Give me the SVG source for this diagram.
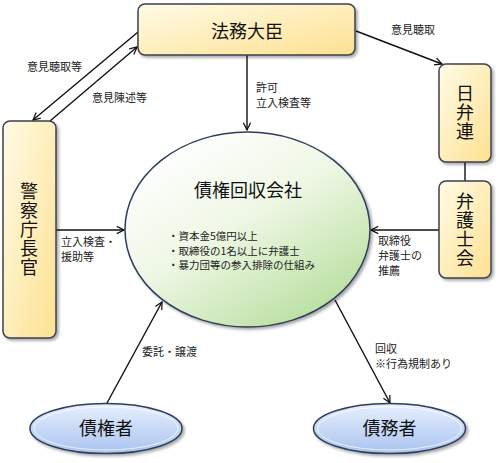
<svg xmlns="http://www.w3.org/2000/svg" width="500" height="463" viewBox="0 0 500 463">
<style>
.lbl{font-family:"Noto Sans CJK JP","Noto Sans",sans-serif;font-size:11px;fill:#222}
.bul{font-family:"Noto Sans CJK JP","Noto Sans",sans-serif;font-size:10.5px;fill:#222}
.big{font-family:"Noto Sans CJK JP","Noto Sans",sans-serif;font-size:18px;fill:#111}
.vt{font-family:"Noto Sans CJK JP","Noto Sans",sans-serif;font-size:18px;fill:#111;writing-mode:vertical-rl;text-orientation:upright;letter-spacing:1px}
.box{fill:url(#yel);stroke:#3c4250;stroke-width:1.5}
.oval{fill:url(#blu);stroke:#2f3e5c;stroke-width:1.5}
.con{stroke:#111;stroke-width:1.4;fill:none}
</style>
<defs>
<linearGradient id="yel" x1="0" y1="0" x2="1" y2="1">
<stop offset="0" stop-color="#fffbe6"/><stop offset="1" stop-color="#fde191"/>
</linearGradient>
<linearGradient id="grn" x1="0.15" y1="0.1" x2="0.8" y2="0.95">
<stop offset="0" stop-color="#ffffff"/><stop offset="0.45" stop-color="#eef7e4"/><stop offset="1" stop-color="#b9dfa0"/>
</linearGradient>
<linearGradient id="blu" x1="0" y1="0" x2="0" y2="1">
<stop offset="0" stop-color="#e8f0ff"/><stop offset="1" stop-color="#a9c3ee"/>
</linearGradient>
<filter id="sh" x="-10%" y="-10%" width="130%" height="130%">
<feDropShadow dx="2" dy="2" stdDeviation="1.5" flood-color="#000" flood-opacity="0.35"/>
</filter>
<marker id="ar" viewBox="0 0 10 10" refX="9" refY="5" markerWidth="9" markerHeight="9" markerUnits="userSpaceOnUse" orient="auto">
<path d="M1,1 L9,5 L1,9" fill="none" stroke="#111" stroke-width="1.4"/>
</marker>
</defs>

<g id="connectors">
<line class="con" x1="138" y1="32" x2="33" y2="120" marker-end="url(#ar)"/>
<line class="con" x1="50" y1="121" x2="137" y2="47" marker-end="url(#ar)"/>
<line class="con" x1="247" y1="55" x2="247" y2="130" marker-end="url(#ar)" stroke-width="1.8"/>
<line class="con" x1="356" y1="31" x2="442" y2="64" marker-end="url(#ar)"/>
<line class="con" x1="465" y1="162" x2="465" y2="181"/>
<line class="con" x1="56" y1="230" x2="124" y2="230" marker-end="url(#ar)"/>
<line class="con" x1="439" y1="230" x2="371" y2="230" marker-end="url(#ar)"/>
<line class="con" x1="107" y1="403" x2="162" y2="302" marker-end="url(#ar)"/>
<line class="con" x1="335" y1="300" x2="390" y2="403" marker-end="url(#ar)"/>
<text class="lbl" x="27" y="71">意見聴取等</text>
<text class="lbl" x="92" y="102">意見陳述等</text>
<text class="lbl" x="256" y="92">許可</text>
<text class="lbl" x="256" y="107">立入検査等</text>
<text class="lbl" x="391" y="34">意見聴取</text>
<text class="lbl" x="61" y="246">立入検査・</text>
<text class="lbl" x="61" y="261">援助等</text>
<text class="lbl" x="378" y="244.5">取締役</text>
<text class="lbl" x="378" y="259.5">弁護士の</text>
<text class="lbl" x="378" y="274.5">推薦</text>
<text class="lbl" x="142" y="356">委託・譲渡</text>
<text class="lbl" x="375" y="352.5">回収</text>
<text class="lbl" x="375" y="367.5">※行為規制あり</text>
</g>

<g id="homu">
<rect class="box" x="138" y="4" width="217" height="51" rx="7" filter="url(#sh)"/>
<text class="big" x="247" y="38" text-anchor="middle">法務大臣</text>
</g>

<g id="nichibenren">
<rect class="box" x="439" y="64" width="52" height="98" rx="7" filter="url(#sh)"/>
<text class="vt" x="465" y="113" text-anchor="middle">日弁連</text>
</g>

<g id="bengoshikai">
<rect class="box" x="439" y="181" width="52" height="97" rx="7" filter="url(#sh)"/>
<text class="vt" x="465" y="230" text-anchor="middle">弁護士会</text>
</g>

<g id="keisatsu">
<rect class="box" x="3" y="121" width="53" height="217" rx="7" filter="url(#sh)"/>
<text class="vt" x="29" y="230" text-anchor="middle">警察庁長官</text>
</g>

<g id="kaisha">
<ellipse cx="247.5" cy="229.5" rx="122.5" ry="97.5" fill="url(#grn)" stroke="#2f3e5c" stroke-width="1.5" filter="url(#sh)"/>
<text class="big" x="248" y="197" text-anchor="middle">債権回収会社</text>
<text class="bul" x="168" y="240">・資本金5億円以上</text>
<text class="bul" x="168" y="254.5">・取締役の1名以上に弁護士</text>
<text class="bul" x="168" y="269">・暴力団等の参入排除の仕組み</text>
</g>

<g id="saikensha">
<ellipse class="oval" cx="106" cy="428.5" rx="76" ry="25" filter="url(#sh)"/>
<ellipse cx="106" cy="428.5" rx="72" ry="21.5" fill="none" stroke="#ffffff" stroke-opacity="0.7" stroke-width="1"/>
<text class="big" x="106" y="435" text-anchor="middle">債権者</text>
</g>

<g id="saimusha">
<ellipse class="oval" cx="389.5" cy="428.5" rx="76" ry="25" filter="url(#sh)"/>
<ellipse cx="389.5" cy="428.5" rx="72" ry="21.5" fill="none" stroke="#ffffff" stroke-opacity="0.7" stroke-width="1"/>
<text class="big" x="389.5" y="435" text-anchor="middle">債務者</text>
</g>
</svg>
